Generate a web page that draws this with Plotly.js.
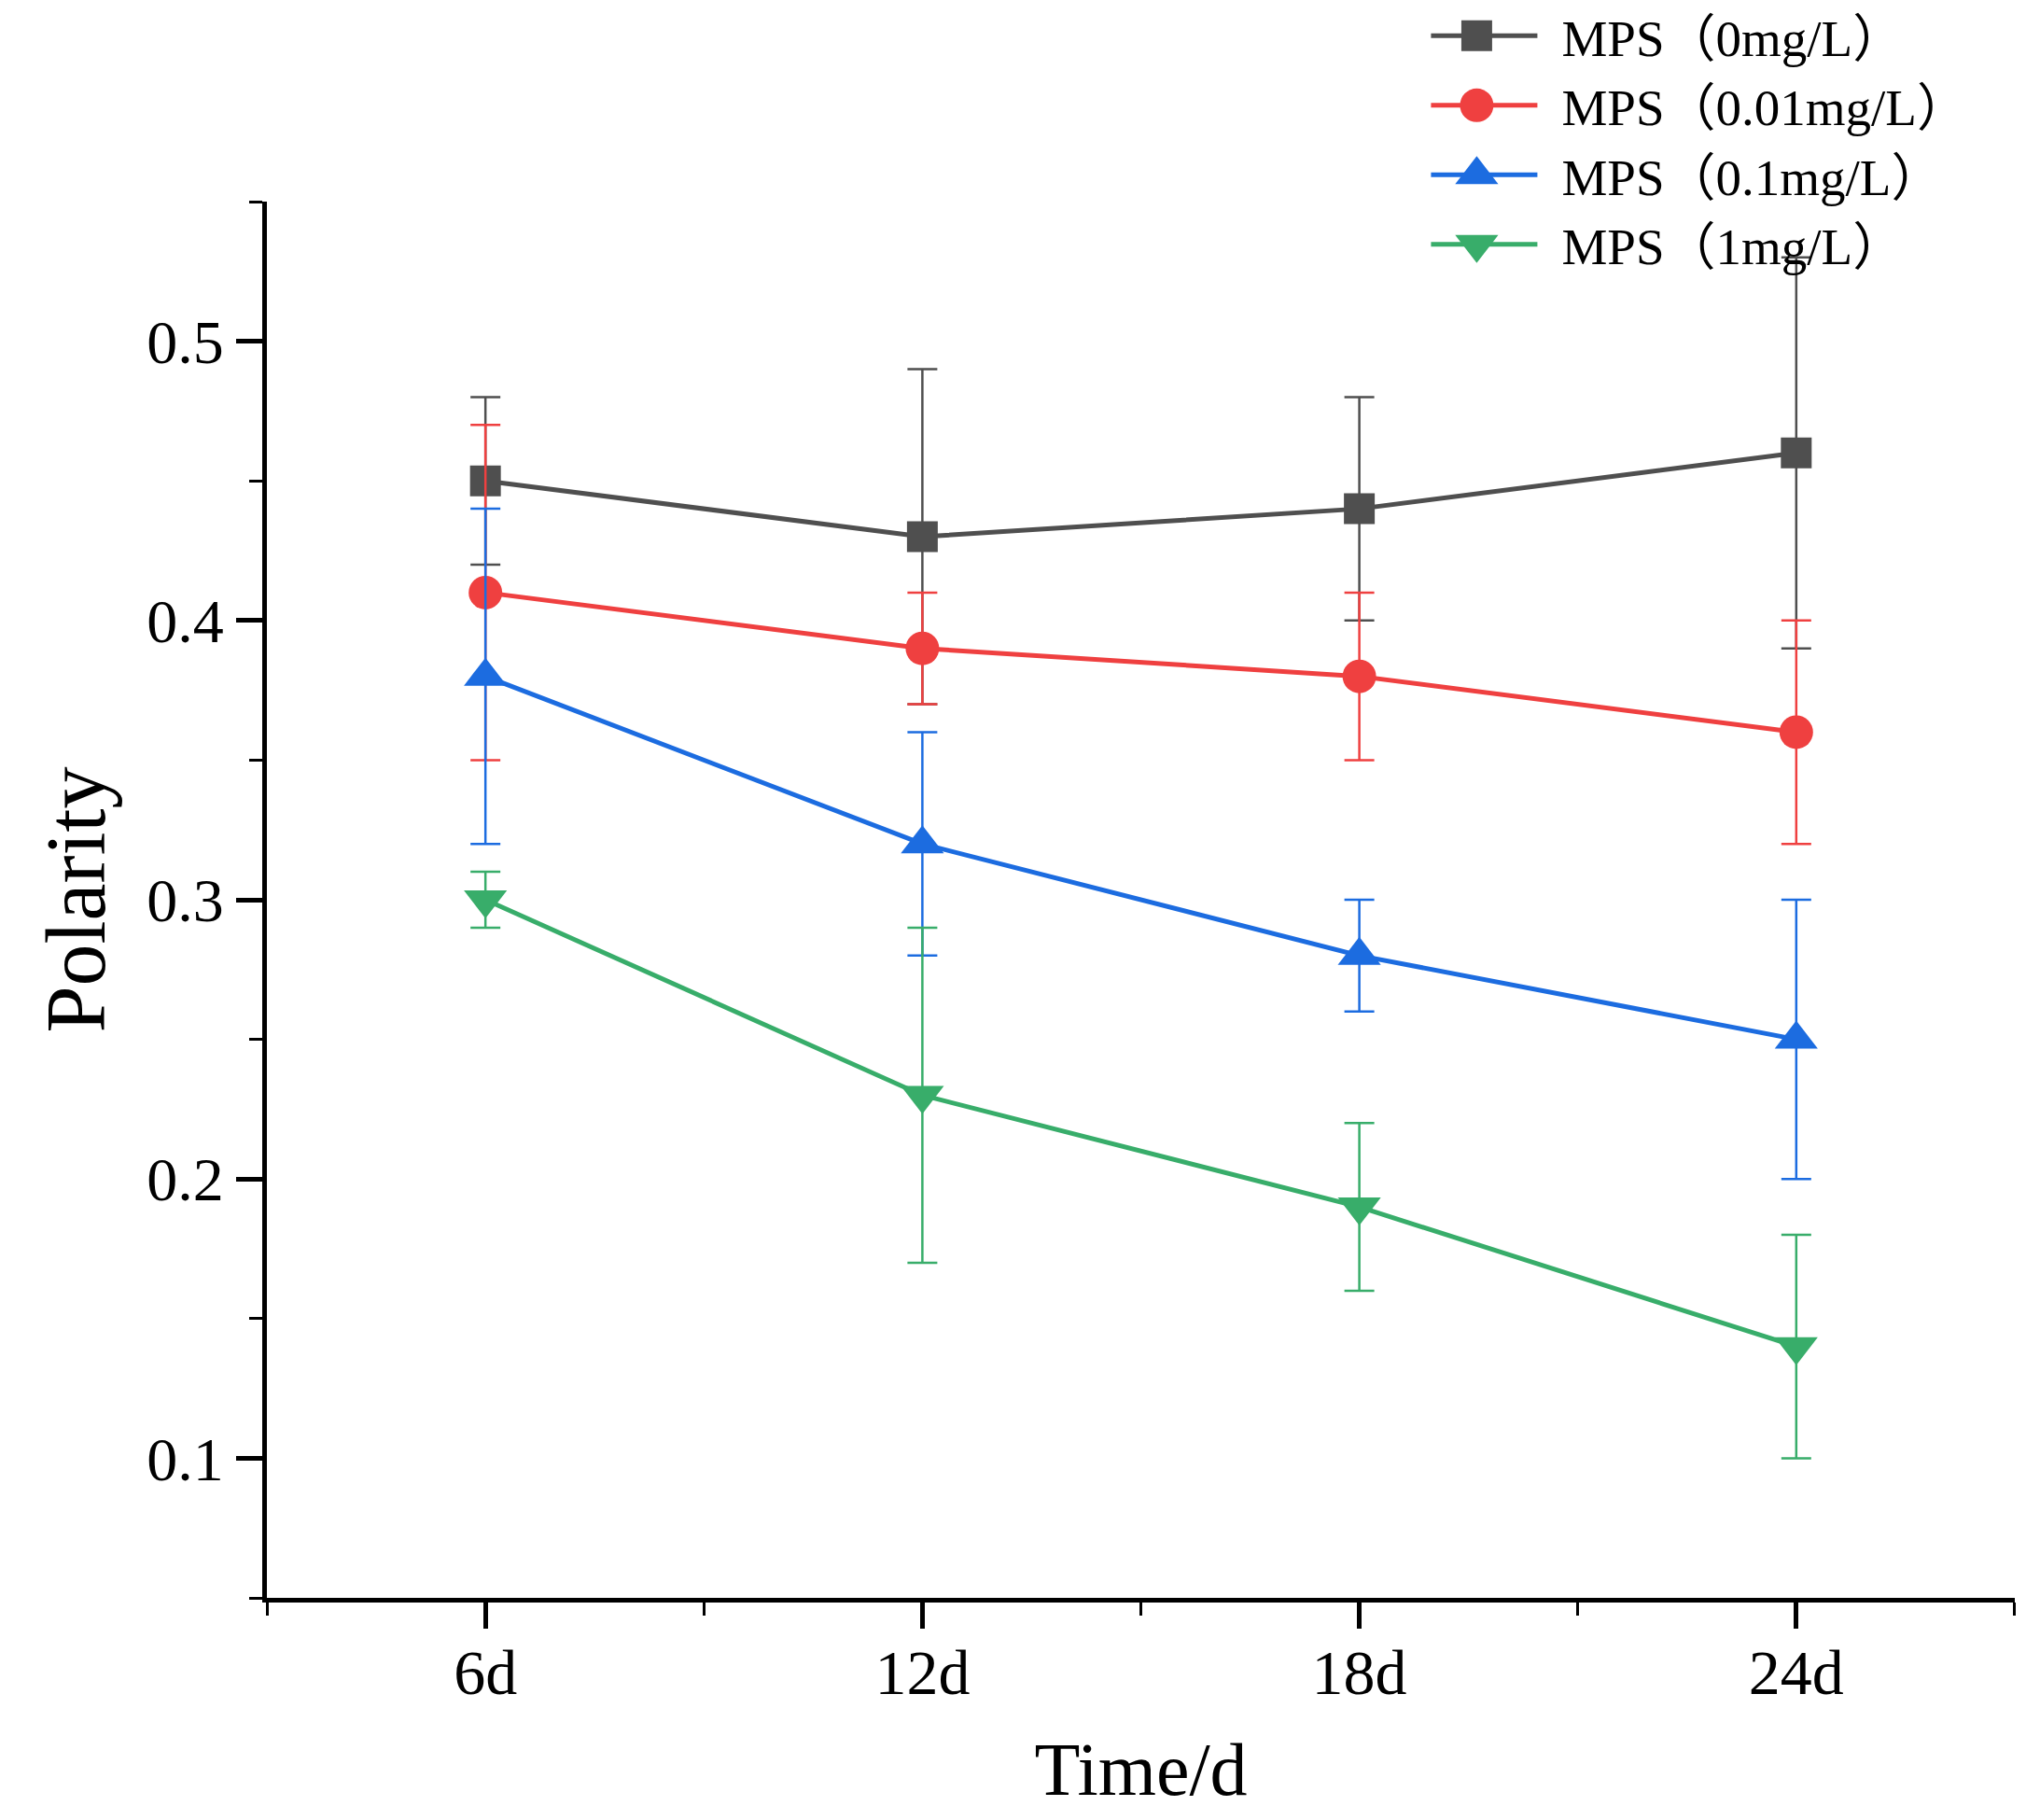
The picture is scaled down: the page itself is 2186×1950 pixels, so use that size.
<!DOCTYPE html>
<html>
<head>
<meta charset="utf-8">
<script src="https://cdn.plot.ly/plotly-3.0.1.min.js"></script>
<style>
  html, body { margin: 0; padding: 0; background: #fff; }
  #chart { width: 2186px; height: 1950px; }
</style>
</head>
<body>
<div id="chart"></div>
<script>
// days on the x axis
const days = [6, 12, 18, 24];
const dayLabels = ["6d", "12d", "18d", "24d"];

// series names (legend)
const names = ["MPS（0mg/L）", "MPS（0.01mg/L）", "MPS（0.1mg/L）", "MPS（1mg/L）"];

// polarity means
const mps0 = [0.45, 0.43, 0.44, 0.46];
const mps001 = [0.41, 0.39, 0.38, 0.36];
const mps01 = [0.38, 0.32, 0.28, 0.25];
const mps1 = [0.30, 0.23, 0.19, 0.14];

// error bars (+/-)
const err0 = [0.03, 0.06, 0.04, 0.07];
const err001 = [0.06, 0.02, 0.03, 0.04];
const err01 = [0.06, 0.04, 0.02, 0.05];
const err1 = [0.01, 0.06, 0.03, 0.04];

const yTicks = [0.1, 0.2, 0.3, 0.4, 0.5];
const yTickLabels = ["0.1", "0.2", "0.3", "0.4", "0.5"];

const FONT = "'Liberation Serif', 'Noto Sans CJK SC', serif";

function makeTrace(y, err, name, color, symbol, size) {
  return {
    x: days,
    y: y,
    name: name,
    type: "scatter",
    mode: "lines+markers",
    line: { color: color, width: 5 },
    marker: { color: color, symbol: symbol, size: size },
    error_y: { type: "data", array: err, visible: true, color: color, thickness: 2.5, width: 16 },
    cliponaxis: false
  };
}

const data = [
  makeTrace(mps0, err0, names[0], "#4f4f4f", "square", 33),
  makeTrace(mps001, err001, names[1], "#ef4040", "circle", 36),
  makeTrace(mps01, err01, names[2], "#1c6ce0", "triangle-up", 40),
  makeTrace(mps1, err1, names[3], "#38ad6a", "triangle-down", 40)
];

const layout = {
  width: 2186,
  height: 1950,
  paper_bgcolor: "#fff",
  plot_bgcolor: "#fff",
  margin: { l: 286, r: 27, t: 216, b: 238, autoexpand: false },
  font: { family: FONT, color: "#000" },
  showlegend: true,
  legend: {
    x: 0.666, y: 1.147, xanchor: "left", yanchor: "top",
    bgcolor: "rgba(0,0,0,0)",
    font: { family: FONT, size: 55, color: "#000" },
    itemwidth: 130,
    tracegroupgap: 0
  },
  xaxis: {
    range: [2.999, 27.001],
    tickmode: "array",
    tickvals: days,
    ticktext: dayLabels,
    showgrid: false,
    zeroline: false,
    showline: true,
    linecolor: "#000",
    linewidth: 5,
    ticks: "outside",
    ticklen: 28,
    tickwidth: 5,
    tickcolor: "#000",
    ticklabelstandoff: -12,
    tickfont: { family: FONT, size: 68 },
    minor: { tickmode: "linear", tick0: 3, dtick: 6, ticks: "outside", ticklen: 14, tickwidth: 3, tickcolor: "#000", showgrid: false },
    title: { text: "Time/d", font: { family: FONT, size: 80 }, standoff: 40 }
  },
  yaxis: {
    range: [0.05, 0.55],
    tickmode: "array",
    tickvals: yTicks,
    ticktext: yTickLabels,
    showgrid: false,
    zeroline: false,
    showline: true,
    linecolor: "#000",
    linewidth: 5,
    ticks: "outside",
    ticklen: 28,
    tickwidth: 5,
    tickcolor: "#000",
    ticklabelstandoff: 0,
    tickfont: { family: FONT, size: 66 },
    minor: { tickmode: "linear", tick0: 0.05, dtick: 0.1, ticks: "outside", ticklen: 14, tickwidth: 3, tickcolor: "#000", showgrid: false },
    title: { text: "Polarity", font: { family: FONT, size: 90 }, standoff: 16 }
  }
};

Plotly.newPlot("chart", data, layout, { displayModeBar: false, staticPlot: true }).then(function (gd) {
  // legend markers are capped at 16px by plotly, scale them up to match the plot markers
  const sizes = data.map(function (t) { return t.marker.size; });
  document.querySelectorAll("#chart .legend .traces").forEach(function (g, i) {
    const f = sizes[i] / 16;
    g.querySelectorAll(".legendpoints path").forEach(function (p) {
      const tr = p.getAttribute("transform") || "";
      p.setAttribute("transform", tr + " scale(" + f + ")");
    });
    // leave a gap between the symbol and the text, like the original
    g.querySelectorAll(".legendlines, .legendpoints").forEach(function (s) {
      s.setAttribute("transform", "translate(-21,0)");
    });
  });
});
</script>
</body>
</html>
